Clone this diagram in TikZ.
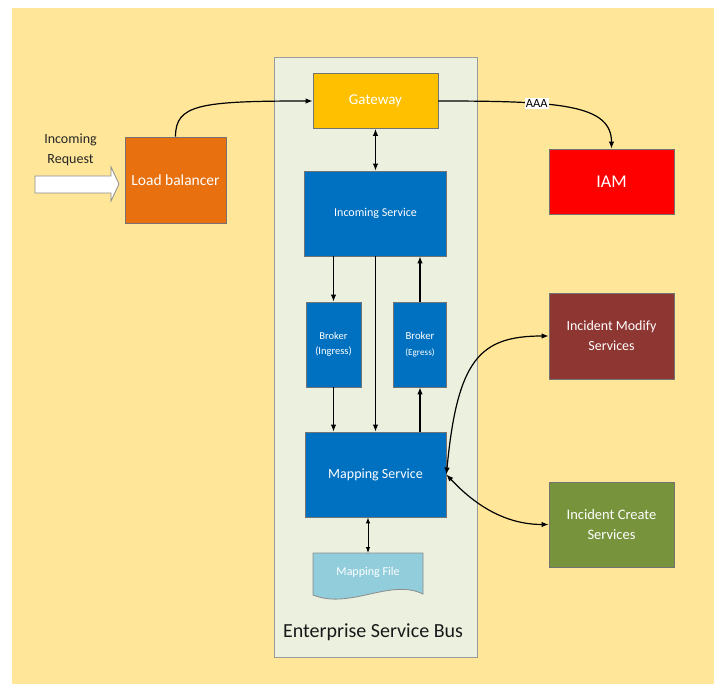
\documentclass[tikz,border=0pt]{standalone}
\usepackage{fontspec}
\setmainfont{Carlito}
\usetikzlibrary{arrows.meta,calc}
\definecolor{bgyellow}{HTML}{FFE699}
\definecolor{esbfill}{HTML}{EBF1DE}
\definecolor{gwcol}{HTML}{FFC000}
\definecolor{lbcol}{HTML}{E8700F}
\definecolor{bluecol}{HTML}{0070C0}
\definecolor{iamcol}{HTML}{FF0000}
\definecolor{modcol}{HTML}{8E3631}
\definecolor{crecol}{HTML}{77933C}
\definecolor{filecol}{HTML}{92CDDC}
\newcommand{\fsz}[2]{\fontsize{#1}{#2}\selectfont}
\tikzset{
  box/.style={draw=black!55, line width=0.8pt, text=white, align=center, inner sep=0pt},
  conn/.style={line width=1.2pt, black},
  arr/.style={conn, -{Latex[length=7pt,width=5.5pt]}},
  darr/.style={conn, {Latex[length=7pt,width=5.5pt]}-{Latex[length=7pt,width=5.5pt]}},
  sdarr/.style={line width=1pt, black, {Latex[length=6pt,width=4.5pt]}-{Latex[length=6pt,width=4.5pt]}},
}
\begin{document}
\begin{tikzpicture}[x=1pt,y=-1pt]
\useasboundingbox (0,0) rectangle (714,684);
\fill[bgyellow] (12,8) rectangle (714,684);
% ESB container
\draw[fill=esbfill, draw=black!40, line width=0.9pt] (274,57) rectangle (477,657);
\node[text=black!90, font=\fsz{20}{24}] (esblabel) at (373,632) {Enterprise Service Bus};
% incoming request block arrow
\draw[fill=white, draw=black!45, line width=0.8pt] (35,176) -- (111,176) -- (111,167) -- (119,184) -- (111,201) -- (111,193) -- (35,193) -- cycle;
\node[align=center, text=black!85, font=\fsz{14}{20}] (inreq) at (70.5,150) {Incoming\\Request};
% boxes
\node[box, fill=lbcol, minimum width=101pt, minimum height=86pt, font=\fsz{15.5}{18}] (lb) at (175.5,180) {Load balancer};
\node[box, fill=gwcol, minimum width=125pt, minimum height=55pt, font=\fsz{15}{18}] (gw) at (375.5,101) {Gateway};
\node[box, fill=bluecol, minimum width=142pt, minimum height=85pt, font=\fsz{12}{14}] (is) at (375.5,213.5) {Incoming Service};
\node[box, fill=iamcol, minimum width=125pt, minimum height=65pt, font=\fsz{18}{20}] (iam) at (611.5,181.5) {IAM};
\node[box, fill=bluecol, minimum width=55pt, minimum height=85pt, font=\fsz{10.5}{15.5}] (bi) at (333.5,344.5) {Broker\\(Ingress)};
\node[box, fill=bluecol, minimum width=53pt, minimum height=85pt, font=\fsz{10.8}{15.5}] (be) at (420,344.5) {Broker\\{\fsz{9.2}{15.5}(Egress)}};
\node[box, fill=bluecol, minimum width=141pt, minimum height=85pt, font=\fsz{14}{16}] (ms) at (375.5,474.5) {Mapping Service};
\node[box, fill=modcol, minimum width=125pt, minimum height=86pt, font=\fsz{14}{20}] (im) at (611.5,336) {Incident Modify\\Services};
\node[box, fill=crecol, minimum width=125pt, minimum height=85pt, font=\fsz{14.5}{20}] (ic) at (611.5,524.5) {Incident Create\\Services};
% mapping file document shape
\draw[fill=filecol, draw=black!45, line width=0.8pt] (313,553) -- (423,553) -- (423,594) .. controls (390,578) and (350,610) .. (313,595) -- cycle;
\node[text=white, font=\fsz{12}{14}] (mf) at (368,572) {Mapping File};
\coordinate (mftop) at (368,553);
% connectors
\draw[arr] (lb.north) .. controls +(0,-32) and +(-113,0) .. (gw.west);
\draw[arr] (gw.east) .. controls +(122,0) and +(0,-44) .. node[pos=0.33, fill=white, inner sep=1pt, text=black, font=\fsz{12.5}{14}] (aaa) {AAA} (iam.north);
\draw[darr] (gw.south) -- (is.north);
\draw[arr] (bi.north |- is.south) -- (bi.north);
\draw[arr] (is.south) -- (ms.north);
\draw[arr] (be.north) -- (be.north |- is.south);
\draw[arr] (bi.south) -- (bi.south |- ms.north);
\draw[arr] (be.south |- ms.north) -- (be.south);
\draw[sdarr] (mftop |- ms.south) -- (mftop);
\draw[darr] (ms.east) .. controls +(11,-115) and +(-69,0) .. (im.west);
\draw[darr] (ms.east) .. controls +(28,30) and +(-44,0) .. (ic.west);
\end{tikzpicture}
\end{document}
